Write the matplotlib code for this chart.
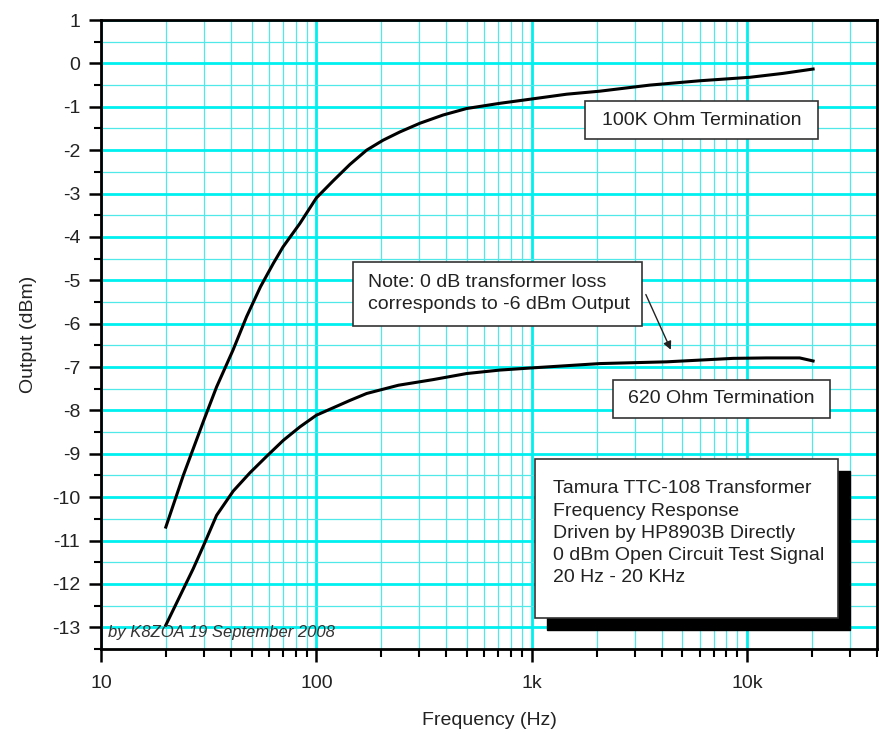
import matplotlib
matplotlib.use("Agg")
import matplotlib.pyplot as plt
from matplotlib.patches import Rectangle
from matplotlib.ticker import FixedLocator, LogLocator, FuncFormatter, NullFormatter
import numpy as np

# values
freq_100k = [20, 24.1, 30, 34.4, 41, 47.4, 55, 63.1, 70, 83.8, 100, 120, 143, 171, 204,
             244, 302, 387, 498, 710, 1000, 1450, 2070, 3530, 6030, 10280, 14650, 20200]
out_100k = [-10.69, -9.5, -8.23, -7.46, -6.61, -5.84, -5.15, -4.61, -4.23, -3.69, -3.10, -2.70,
            -2.33, -2.0, -1.77, -1.58, -1.38, -1.19, -1.04, -0.92, -0.82, -0.71, -0.64, -0.50,
            -0.40, -0.32, -0.23, -0.13]

freq_620 = [20, 26.8, 29.9, 34.4, 41.1, 49.1, 58.7, 70.2, 83.8, 100, 143, 171, 240, 348, 498,
            710, 1000, 2070, 2950, 4220, 8590, 12270, 17500, 20200]
out_620 = [-12.95, -11.65, -11.12, -10.42, -9.86, -9.44, -9.06, -8.69, -8.38, -8.11, -7.77,
           -7.61, -7.42, -7.29, -7.15, -7.07, -7.02, -6.92, -6.90, -6.88, -6.80, -6.79, -6.79, -6.86]

x_ticks = [10, 100, 1000, 10000]
x_labels = ["10", "100", "1k", "10k"]
y_ticks = list(range(1, -14, -1))

info_lines = ["Tamura TTC-108 Transformer",
              "Frequency Response",
              "Driven by HP8903B Directly",
              "0 dBm Open Circuit Test Signal",
              "20 Hz - 20 KHz"]

plt.rcParams['font.family'] = ['Liberation Sans', 'DejaVu Sans']
plt.rcParams['axes.unicode_minus'] = False

fig = plt.figure(figsize=(8.81, 7.31), dpi=100)
ax = fig.add_axes([0.1146, 0.1122, 0.8809, 0.8604])

ax.set_xscale('log')
ax.set_xlim(10, 40000)
ax.set_ylim(-13.5, 1)

# grid
ax.xaxis.set_major_locator(FixedLocator(x_ticks))
ax.xaxis.set_major_formatter(FuncFormatter(lambda v, p: x_labels[x_ticks.index(v)] if v in x_ticks else ""))
ax.xaxis.set_minor_locator(LogLocator(base=10, subs=np.arange(2, 10), numticks=20))
ax.xaxis.set_minor_formatter(NullFormatter())
ax.yaxis.set_major_locator(FixedLocator(y_ticks))
ax.yaxis.set_minor_locator(FixedLocator(np.arange(-13.5, 1.0, 1.0)))

ax.grid(True, which='major', color='#00f0f0', linewidth=2.0)
ax.grid(True, which='minor', color='#50e8e8', linewidth=0.9)
ax.set_axisbelow(True)

for s in ax.spines.values():
    s.set_linewidth(2.0)
    s.set_color('black')

ax.tick_params(axis='both', which='major', direction='out', length=9, width=1.8,
               labelsize=14, colors='black', labelcolor='#222222')
ax.tick_params(axis='both', which='minor', direction='out', length=5, width=1.5)
ax.tick_params(axis='x', which='major', pad=10)
ax.tick_params(axis='y', which='major', pad=6)
ax.tick_params(axis='x', which='minor', length=6)

ax.plot(freq_100k, out_100k, color='black', linewidth=2.2)
ax.plot(freq_620, out_620, color='black', linewidth=2.2)

ax.set_xlabel('Frequency (Hz)', fontsize=14, color='#222222', labelpad=14)
ax.set_ylabel('Output (dBm)', fontsize=14, color='#222222', labelpad=11)

# label boxes
ax.add_patch(Rectangle((0.6237, 0.8108), 0.3003, 0.0604, transform=ax.transAxes,
                       facecolor='white', edgecolor='#333333', linewidth=1.2, zorder=5))
ax.text(0.774, 0.841, "100K Ohm Termination", transform=ax.transAxes, fontsize=14,
        ha='center', va='center', color='#222222', zorder=6)

ax.add_patch(Rectangle((0.660, 0.367), 0.2796, 0.0604, transform=ax.transAxes,
                       facecolor='white', edgecolor='#333333', linewidth=1.2, zorder=5))
ax.text(0.7996, 0.3975, "620 Ohm Termination", transform=ax.transAxes, fontsize=14,
        ha='center', va='center', color='#222222', zorder=6)

ax.add_patch(Rectangle((0.3247, 0.5135), 0.3724, 0.1017, transform=ax.transAxes,
                       facecolor='white', edgecolor='#333333', linewidth=1.2, zorder=5))
ax.text(0.344, 0.565, "Note: 0 dB transformer loss\ncorresponds to -6 dBm Output",
        transform=ax.transAxes, fontsize=14, ha='left', va='center',
        color='#222222', linespacing=1.4, zorder=6)
ax.annotate("", xy=(4470, -6.66), xytext=(3340, -5.27),
            arrowprops=dict(arrowstyle='-|>', color='#222222', lw=1.0, mutation_scale=12))

# info box with drop shadow
ax.add_patch(Rectangle((0.5745, 0.030), 0.391, 0.253, transform=ax.transAxes,
                       facecolor='black', edgecolor='black', zorder=4))
ax.add_patch(Rectangle((0.559, 0.049), 0.391, 0.253, transform=ax.transAxes,
                       facecolor='white', edgecolor='#333333', linewidth=1.2, zorder=5))
ax.text(0.582, 0.268, "\n".join(info_lines), transform=ax.transAxes, fontsize=14,
        ha='left', va='top', color='#222222', linespacing=1.4, zorder=6)

ax.text(0.009, 0.027, "by K8ZOA 19 September 2008", transform=ax.transAxes,
        fontsize=12, style='italic', ha='left', va='center', color='#333333')

fig.savefig('out.png', dpi=100)
